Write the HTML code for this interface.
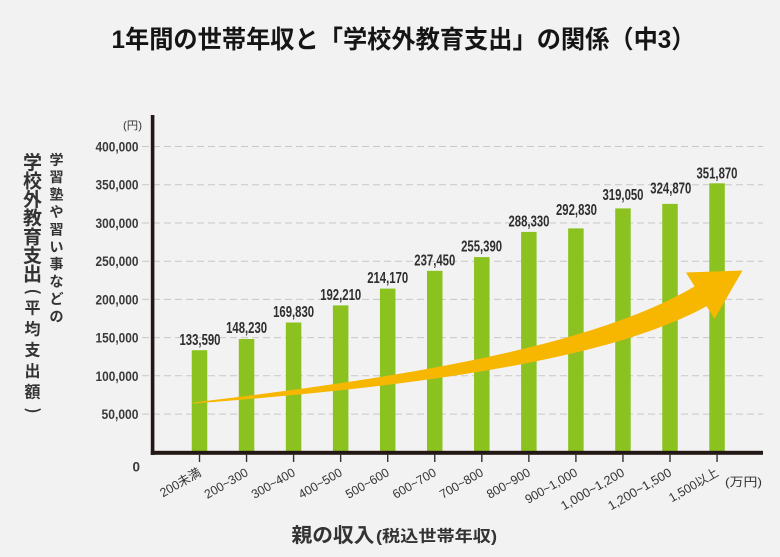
<!DOCTYPE html>
<html>
<head>
<meta charset="utf-8">
<style>
html,body{margin:0;padding:0;background:#f2f2f2;}
svg{display:block;}
</style>
</head>
<body>
<svg width="780" height="557" viewBox="0 0 780 557" xmlns="http://www.w3.org/2000/svg">
<rect x="0" y="0" width="780" height="557" fill="#f2f2f2"/>

<!-- Title -->
<text x="111.5" y="48" font-family="'Liberation Sans','Noto Sans CJK JP',sans-serif" font-weight="bold" font-size="25" fill="#151515" textLength="584" lengthAdjust="spacingAndGlyphs">1年間の世帯年収と「学校外教育支出」の関係（中3）</text>

<!-- Gridlines -->
<g stroke="#c8c8c8" stroke-width="1" stroke-dasharray="7 4" fill="none">
<line x1="142" y1="146.5" x2="763" y2="146.5"/>
<line x1="142" y1="184.7" x2="763" y2="184.7"/>
<line x1="142" y1="223" x2="763" y2="223"/>
<line x1="142" y1="261.2" x2="763" y2="261.2"/>
<line x1="142" y1="299.4" x2="763" y2="299.4"/>
<line x1="142" y1="337.6" x2="763" y2="337.6"/>
<line x1="142" y1="375.8" x2="763" y2="375.8"/>
<line x1="142" y1="414.1" x2="763" y2="414.1"/>
</g>

<!-- Y tick labels -->
<g font-family="'Liberation Sans Narrow','Liberation Sans',sans-serif" font-weight="bold" font-size="13.5" fill="#3a3a3a" text-anchor="end">
<text x="138.5" y="151.5" textLength="43" lengthAdjust="spacingAndGlyphs">400,000</text>
<text x="138.5" y="189.7" textLength="43" lengthAdjust="spacingAndGlyphs">350,000</text>
<text x="138.5" y="228" textLength="43" lengthAdjust="spacingAndGlyphs">300,000</text>
<text x="138.5" y="266.2" textLength="43" lengthAdjust="spacingAndGlyphs">250,000</text>
<text x="138.5" y="304.4" textLength="43" lengthAdjust="spacingAndGlyphs">200,000</text>
<text x="138.5" y="342.6" textLength="43" lengthAdjust="spacingAndGlyphs">150,000</text>
<text x="138.5" y="380.8" textLength="43" lengthAdjust="spacingAndGlyphs">100,000</text>
<text x="138.5" y="419.1" textLength="37" lengthAdjust="spacingAndGlyphs">50,000</text>
<text x="140" y="471.7">0</text>
</g>
<text x="123" y="129" font-family="'Liberation Sans','Noto Sans CJK JP',sans-serif" font-size="11" fill="#3a3a3a" textLength="19" lengthAdjust="spacingAndGlyphs">(円)</text>

<!-- Bars -->
<g fill="#8cc21f">
<rect x="191.75" y="350.2" width="15.5" height="102"/>
<rect x="238.8" y="339.0" width="15.5" height="113"/>
<rect x="285.85" y="322.5" width="15.5" height="130"/>
<rect x="332.9" y="305.4" width="15.5" height="147"/>
<rect x="379.95" y="288.6" width="15.5" height="164"/>
<rect x="427.0" y="270.8" width="15.5" height="182"/>
<rect x="474.05" y="257.1" width="15.5" height="195"/>
<rect x="521.1" y="231.9" width="15.5" height="221"/>
<rect x="568.15" y="228.4" width="15.5" height="224"/>
<rect x="615.2" y="208.4" width="15.5" height="244"/>
<rect x="662.25" y="203.9" width="15.5" height="249"/>
<rect x="709.3" y="183.3" width="15.5" height="269"/>
</g>

<!-- Arrow -->
<g fill="#f7b600">
<path d="M193,402.5 C400,378 594,347 697,285 L707,306 C606,362 400,388 193,403.5 Z"/>
<polygon points="686,272.5 742.5,270.5 714.5,319"/>
</g>

<!-- Data labels -->
<g font-family="'Liberation Sans Narrow','Liberation Sans',sans-serif" font-weight="bold" font-size="16" fill="#2e2e2e" text-anchor="middle">
<text x="200" y="345" textLength="41" lengthAdjust="spacingAndGlyphs">133,590</text>
<text x="246.6" y="333" textLength="41" lengthAdjust="spacingAndGlyphs">148,230</text>
<text x="293.6" y="317" textLength="41" lengthAdjust="spacingAndGlyphs">169,830</text>
<text x="340.7" y="300" textLength="41" lengthAdjust="spacingAndGlyphs">192,210</text>
<text x="387.7" y="283" textLength="41" lengthAdjust="spacingAndGlyphs">214,170</text>
<text x="434.8" y="265.5" textLength="41" lengthAdjust="spacingAndGlyphs">237,450</text>
<text x="481.6" y="251.5" textLength="41" lengthAdjust="spacingAndGlyphs">255,390</text>
<text x="529" y="226.7" textLength="41" lengthAdjust="spacingAndGlyphs">288,330</text>
<text x="576.5" y="215" textLength="41" lengthAdjust="spacingAndGlyphs">292,830</text>
<text x="623" y="200" textLength="41" lengthAdjust="spacingAndGlyphs">319,050</text>
<text x="670.8" y="193.3" textLength="41" lengthAdjust="spacingAndGlyphs">324,870</text>
<text x="717" y="178.3" textLength="41" lengthAdjust="spacingAndGlyphs">351,870</text>
</g>

<!-- Axes -->
<rect x="150.8" y="115" width="3.6" height="340" fill="#231815"/>
<rect x="150.8" y="450.8" width="612.2" height="4" fill="#231815"/>

<!-- X ticks -->
<g stroke="#333" stroke-width="1.4">
<line x1="199.5" y1="454" x2="199.5" y2="462"/>
<line x1="246.55" y1="454" x2="246.55" y2="462"/>
<line x1="293.6" y1="454" x2="293.6" y2="462"/>
<line x1="340.65" y1="454" x2="340.65" y2="462"/>
<line x1="387.7" y1="454" x2="387.7" y2="462"/>
<line x1="434.75" y1="454" x2="434.75" y2="462"/>
<line x1="481.8" y1="454" x2="481.8" y2="462"/>
<line x1="528.85" y1="454" x2="528.85" y2="462"/>
<line x1="575.9" y1="454" x2="575.9" y2="462"/>
<line x1="622.95" y1="454" x2="622.95" y2="462"/>
<line x1="670" y1="454" x2="670" y2="462"/>
<line x1="717.05" y1="454" x2="717.05" y2="462"/>
</g>

<!-- X labels -->
<g font-family="'Liberation Sans Narrow','Liberation Sans','Noto Sans CJK JP',sans-serif" font-size="12.5" fill="#333" text-anchor="end">
<text transform="translate(202,475) rotate(-30)" textLength="45" lengthAdjust="spacingAndGlyphs">200未満</text>
<text transform="translate(249,475) rotate(-30)" textLength="48" lengthAdjust="spacingAndGlyphs">200~300</text>
<text transform="translate(296.1,475) rotate(-30)" textLength="48" lengthAdjust="spacingAndGlyphs">300~400</text>
<text transform="translate(343.1,475) rotate(-30)" textLength="48" lengthAdjust="spacingAndGlyphs">400~500</text>
<text transform="translate(390.2,475) rotate(-30)" textLength="48" lengthAdjust="spacingAndGlyphs">500~600</text>
<text transform="translate(437.2,475) rotate(-30)" textLength="48" lengthAdjust="spacingAndGlyphs">600~700</text>
<text transform="translate(484.3,475) rotate(-30)" textLength="48" lengthAdjust="spacingAndGlyphs">700~800</text>
<text transform="translate(531.3,475) rotate(-30)" textLength="48" lengthAdjust="spacingAndGlyphs">800~900</text>
<text transform="translate(578.4,475) rotate(-30)" textLength="58" lengthAdjust="spacingAndGlyphs">900~1,000</text>
<text transform="translate(625.4,475) rotate(-30)" textLength="71" lengthAdjust="spacingAndGlyphs">1,000~1,200</text>
<text transform="translate(672.5,475) rotate(-30)" textLength="71" lengthAdjust="spacingAndGlyphs">1,200~1,500</text>
<text transform="translate(719.5,475) rotate(-30)" textLength="55" lengthAdjust="spacingAndGlyphs">1,500以上</text>
</g>
<text x="725" y="486" font-family="'Liberation Sans Narrow','Liberation Sans','Noto Sans CJK JP',sans-serif" font-size="12" fill="#333" textLength="37" lengthAdjust="spacingAndGlyphs">(万円)</text>

<!-- X axis title -->
<text x="291.5" y="542" font-family="'Liberation Sans','Noto Sans CJK JP',sans-serif" font-weight="bold" font-size="20" fill="#333" textLength="83" lengthAdjust="spacingAndGlyphs">親の収入</text>
<text x="376" y="541.5" font-family="'Liberation Sans','Noto Sans CJK JP',sans-serif" font-weight="bold" font-size="16" fill="#333" textLength="121" lengthAdjust="spacingAndGlyphs">(税込世帯年収)</text>

<!-- Y axis title column 1 -->
<g font-family="'Noto Sans CJK JP',sans-serif" font-weight="bold" font-size="14" fill="#333" text-anchor="middle">
<text x="56.5" y="164.8">学</text>
<text x="56.5" y="182.2">習</text>
<text x="56.5" y="199.6">塾</text>
<text x="56.5" y="217.0">や</text>
<text x="56.5" y="234.4">習</text>
<text x="56.5" y="251.8">い</text>
<text x="56.5" y="269.2">事</text>
<text x="56.5" y="286.6">な</text>
<text x="56.5" y="304.0">ど</text>
<text x="56.5" y="321.4">の</text>
</g>

<!-- Y axis title column 2 -->
<g font-family="'Noto Sans CJK JP',sans-serif" font-weight="bold" font-size="19" fill="#333" text-anchor="middle">
<text x="32.5" y="168.9">学</text>
<text x="32.5" y="187.5">校</text>
<text x="32.5" y="206.1">外</text>
<text x="32.5" y="224.7">教</text>
<text x="32.5" y="243.3">育</text>
<text x="32.5" y="261.9">支</text>
<text x="32.5" y="280.5">出</text>
</g>
<g font-family="'Noto Sans CJK JP',sans-serif" font-weight="bold" font-size="16" fill="#333" text-anchor="middle">
<text transform="translate(32.5,291.7) rotate(90)" y="5">(</text>
<text x="32.5" y="313.6">平</text>
<text x="32.5" y="334.6">均</text>
<text x="32.5" y="355.6">支</text>
<text x="32.5" y="376.6">出</text>
<text x="32.5" y="397.6">額</text>
<text transform="translate(32.5,410.5) rotate(90)" y="5">)</text>
</g>
</svg>
</body>
</html>
